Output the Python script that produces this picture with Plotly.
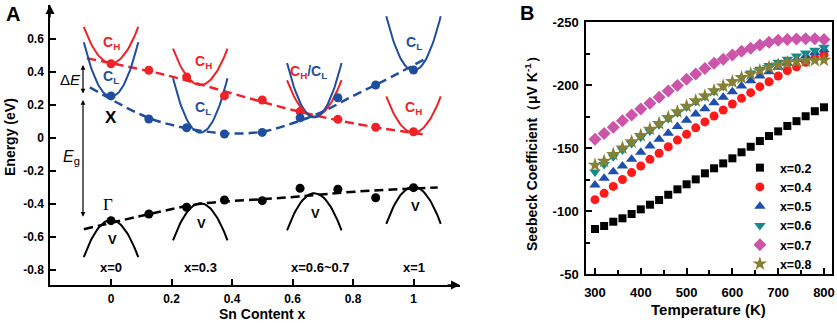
import numpy as np
import plotly.graph_objects as go

# ---------------- Panel A data ----------------
sn_x = [0, 0.125, 0.25, 0.375, 0.5, 0.625, 0.75, 0.875, 1.0]
E_CH = [0.45, 0.41, 0.37, 0.255, 0.23, 0.16, 0.113, 0.065, 0.038]
E_CL = [0.255, 0.115, 0.062, 0.024, 0.034, 0.122, 0.244, 0.321, 0.412]
E_V = [-0.501, -0.461, -0.420, -0.376, -0.380, -0.305, -0.311, -0.362, -0.301]

fit_CH_x = [-0.08, 0.18, 0.40, 0.60, 0.80, 1.03]
fit_CH_E = [0.483, 0.382, 0.27, 0.17, 0.089, 0.022]
fit_CL_x = [-0.07, 0.12, 0.25, 0.38, 0.50, 0.60, 0.70, 0.80, 0.90, 1.04]
fit_CL_E = [0.307, 0.125, 0.059, 0.028, 0.038, 0.089, 0.16, 0.255, 0.345, 0.48]
fit_V_x = [-0.09, 0.13, 0.29, 0.49, 0.62, 0.81, 1.08]
fit_V_E = [-0.553, -0.46, -0.40, -0.372, -0.355, -0.325, -0.30]

band_x = [0, 0.295, 0.672, 1.0]
band_CH = [0.453, 0.321, 0.13, 0.032]
band_CL = [0.25, 0.032, 0.125, 0.408]
band_V = [-0.497, -0.396, -0.335, -0.295]
band_labels = ["x=0", "x=0.3", "x=0.6~0.7", "x=1"]

a_xticks = [0, 0.2, 0.4, 0.6, 0.8, 1.0]
a_xticktext = ["0", "0.2", "0.4", "0.6", "0.8", "1"]
a_yticks = [0.6, 0.4, 0.2, 0, -0.2, -0.4, -0.6, -0.8]
a_yticktext = ["0.6", "0.4", "0.2", "0", "-0.2", "-0.4", "-0.6", "-0.8"]

# ---------------- Panel B data ----------------
T = [300, 320, 340, 360, 380, 400, 420, 440, 460, 480, 500, 520, 540,
     560, 580, 600, 620, 640, 660, 680, 700, 720, 740, 760, 780, 800]
S_02 = [-85.7, -88.1, -91.5, -94.2, -97.6, -101.3, -105, -108.7, -112.9, -117.2, -121.2, -125.1, -129.9,
        -133.9, -137.8, -141.8, -146.6, -151, -155.5, -159.5, -163.2, -167.5, -171.3, -175.2, -179.2, -182.3]
S_04 = [-109, -114, -119.5, -125, -130.5, -135.7, -141, -145.8, -151, -156.3, -160.9, -166, -170.7,
        -175.4, -180.2, -184.9, -189.4, -193.9, -198.7, -202.6, -207.1, -211.4, -214.5, -218, -221.4, -224]
S_05 = [-120.6, -125.9, -131.2, -135.7, -141, -146.6, -151.6, -156.9, -161.7, -167, -172, -177, -181.2,
        -186, -190.2, -194.7, -199.2, -203.4, -207.1, -210.6, -214, -217.2, -220.2, -223, -225.5, -228]
S_06 = [-131, -137, -143, -148.5, -153.5, -158.5, -163.5, -168.5, -173.5, -178, -182.5, -187, -191,
        -195, -199, -202.5, -206, -209.5, -212.5, -215.5, -218, -220.5, -223, -225.3, -227.5, -230]
S_07 = [-157, -161.6, -166.5, -171.7, -176.2, -181, -185.5, -190.2, -195.2, -199.7, -204.5, -208.7, -213,
        -217.2, -220.4, -223.8, -226.7, -229.1, -231.7, -233.9, -235.5, -236.2, -236.5, -236.8, -236.8, -236.2]
S_08 = [-136.5, -139.5, -145, -150, -155, -160, -165, -169.5, -174.3, -178.8, -183.3, -187.5, -191.3,
        -195.5, -199.2, -202.6, -205.8, -208.7, -211.4, -214, -215.9, -217.7, -218.5, -219.1, -219.6, -219.8]
b_names = ["x=0.2", "x=0.4", "x=0.5", "x=0.6", "x=0.7", "x=0.8"]
b_series = [S_02, S_04, S_05, S_06, S_07, S_08]
b_xticks = [300, 400, 500, 600, 700, 800]
b_yticks = [-250, -200, -150, -100, -50]
b_yticktext = ["-250", "-200", "-150", "-100", "-50"]

# ---------------- styles ----------------
RED = "#ee2227"
BLUE = "#1f4e9f"
FONT = "Arial, Liberation Sans, sans-serif"
b_styles = [
    dict(symbol="square", color="#000000", size=8),
    dict(symbol="circle", color="#ff1a1a", size=9),
    dict(symbol="triangle-up", color="#1f4fae", size=10),
    dict(symbol="triangle-down", color="#138a8c", size=10),
    dict(symbol="diamond", color="#cc55aa", size=10),
    dict(symbol="star", color="#858033", size=11),
]

fig = go.Figure()

# Panel A: fit lines (dashed)
for fx, fe, col in [(fit_CH_x, fit_CH_E, RED), (fit_CL_x, fit_CL_E, BLUE), (fit_V_x, fit_V_E, "black")]:
    fig.add_trace(go.Scatter(x=fx, y=fe, mode="lines", xaxis="x", yaxis="y",
                             line=dict(color=col, width=2.5, dash="9px,5px", shape="spline", smoothing=1.0),
                             showlegend=False, hoverinfo="skip"))

# Panel A: band parabolas
half_w = 0.09
dxs = np.linspace(-half_w, half_w, 41)
for c, ch, cl, v in zip(band_x, band_CH, band_CL, band_V):
    for vert, depth, col in [(ch, 0.22, RED), (cl, 0.33, BLUE), (v, -0.225, "black")]:
        fig.add_trace(go.Scatter(x=c + dxs, y=vert + depth * (dxs / half_w) ** 2, mode="lines",
                                 xaxis="x", yaxis="y", line=dict(color=col, width=2),
                                 showlegend=False, hoverinfo="skip"))

# Panel A: dots
for ee, col in [(E_CH, RED), (E_CL, BLUE), (E_V, "black")]:
    fig.add_trace(go.Scatter(x=sn_x, y=ee, mode="markers", xaxis="x", yaxis="y",
                             marker=dict(color=col, size=9), showlegend=False, hoverinfo="skip"))

# Panel B
for name, ser, st in zip(b_names, b_series, b_styles):
    fig.add_trace(go.Scatter(x=T, y=ser, mode="markers", name=name, xaxis="x2", yaxis="y2",
                             marker=dict(symbol=st["symbol"], color=st["color"], size=st["size"],
                                         line=dict(width=0))))

W, H = 837, 323
axA_x0, axA_x1 = 50, 460
axA_yb, axA_yt = 285, 5
xA_range = [-0.2017, 1.1537]
yA_range = [-0.891, 0.806]

axis_common = dict(showgrid=False, zeroline=False, showline=True, linecolor="black", linewidth=1.5,
                   ticks="inside", tickcolor="black", tickwidth=1.5, ticklen=6, automargin=False)

fig.update_layout(
    width=W, height=H, margin=dict(l=0, r=0, t=0, b=0, autoexpand=False),
    paper_bgcolor="white", plot_bgcolor="white",
    font=dict(family=FONT, color="black"),
    xaxis=dict(domain=[axA_x0 / W, axA_x1 / W], range=xA_range, anchor="y",
               tickvals=a_xticks, ticktext=a_xticktext,
               tickfont=dict(size=12, weight="bold"), ticklabelstandoff=2, **axis_common),
    yaxis=dict(domain=[(H - axA_yb) / H, (H - axA_yt) / H], range=yA_range, anchor="x",
               tickvals=a_yticks, ticktext=a_yticktext,
               tickfont=dict(size=12, weight="bold"), ticklabelstandoff=2, **axis_common),
    xaxis2=dict(domain=[586 / W, 832 / W], range=[280.4, 817.5], anchor="y2",
                tickvals=b_xticks, mirror=True,
                minor=dict(ticks="inside", ticklen=4, tickwidth=1.5, tickcolor="black", dtick=50, tick0=300),
                tickfont=dict(size=13, weight="bold"), ticklabelstandoff=6, **axis_common),
    yaxis2=dict(domain=[(H - 274) / H, (H - 22) / H], range=[-50, -250], anchor="x2",
                tickvals=b_yticks, ticktext=b_yticktext, mirror=True,
                minor=dict(ticks="inside", ticklen=4, tickwidth=1.5, tickcolor="black", dtick=25, tick0=-50),
                tickfont=dict(size=13, weight="bold"), ticklabelstandoff=3, **axis_common),
    legend=dict(x=0.884, y=(H - 153) / H, xanchor="left", yanchor="top", bgcolor="rgba(0,0,0,0)",
                font=dict(size=12.5, weight="bold", family=FONT), tracegroupgap=0, itemwidth=30),
)

ann = []
# axis arrowheads panel A
ann.append(dict(x=xA_range[0], y=yA_range[1], xref="x", yref="y", ax=0, ay=14, text="",
                showarrow=True, arrowhead=2, arrowsize=1.2, arrowwidth=1.5, arrowcolor="black"))
ann.append(dict(x=xA_range[1], y=yA_range[0], xref="x", yref="y", ax=-14, ay=0, text="",
                showarrow=True, arrowhead=2, arrowsize=1.2, arrowwidth=1.5, arrowcolor="black"))
# Delta E and Eg double arrows
arr_x = -0.0926
ann.append(dict(x=arr_x, y=band_CH[0] - 0.01, ax=arr_x, ay=band_CL[0] + 0.01, xref="x", yref="y",
                axref="x", ayref="y", text="", showarrow=True, arrowhead=2, arrowside="end+start",
                arrowsize=0.8, arrowwidth=1.2, arrowcolor="black"))
ann.append(dict(x=arr_x, y=band_CL[0] - 0.02, ax=arr_x, ay=band_V[0] + 0.01, xref="x", yref="y",
                axref="x", ayref="y", text="", showarrow=True, arrowhead=2, arrowside="end+start",
                arrowsize=0.8, arrowwidth=1.2, arrowcolor="black"))
ann.append(dict(x=-0.135, y=0.355, xref="x", yref="y", text="Δ<i>E</i>", showarrow=False,
                xanchor="center", yanchor="middle", font=dict(size=15, color="black")))
ann.append(dict(x=-0.13, y=-0.12, xref="x", yref="y", text="<i>E</i><sub>g</sub>", showarrow=False,
                xanchor="center", yanchor="middle", font=dict(size=16, color="black")))

# band labels
def lab(x, y, t, col, size=14, weight="bold", fam=FONT):
    ann.append(dict(x=x, y=y, xref="x", yref="y", text=t, showarrow=False,
                    xanchor="center", yanchor="middle",
                    font=dict(size=size, color=col, weight=weight, family=fam)))

lab(band_x[0], 0.575, "C<sub>H</sub>", RED)
lab(band_x[1] + 0.01, 0.46, "C<sub>H</sub>", RED)
lab(band_x[3], 0.18, "C<sub>H</sub>", RED)
lab(band_x[0], 0.37, "C<sub>L</sub>", BLUE)
lab(band_x[1] + 0.01, 0.18, "C<sub>L</sub>", BLUE)
lab(band_x[3], 0.575, "C<sub>L</sub>", BLUE)
ann.append(dict(x=band_x[2] - 0.02, y=0.40, xref="x", yref="y", showarrow=False,
                xanchor="center", yanchor="middle",
                text=f"<span style='color:{RED}'>C<sub>H</sub></span><span style='color:{BLUE}'>/C<sub>L</sub></span>",
                font=dict(size=14, weight="bold")))
lab(band_x[0], 0.125, "X", "black", size=17)
lab(band_x[0] - 0.01, -0.405, "Γ", "black", size=17, weight="normal", fam="Liberation Serif, serif")
for c, v in zip(band_x, band_V):
    lab(c + 0.005, v - 0.12, "V", "black", size=13)
for c, t in zip(band_x, band_labels):
    lab(c + (0.02 if "~" in t else 0), -0.785, t, "black", size=13)

# titles
def ptxt(x, y, t, size, angle=0):
    ann.append(dict(x=x / W, y=(H - y) / H, xref="paper", yref="paper", text=t, textangle=angle,
                    xanchor="center", yanchor="middle", showarrow=False,
                    font=dict(size=size, weight="bold")))

ptxt(262, 314, "Sn Content x", 14)
ptxt(10, 137, "Energy (eV)", 14, -90)
ptxt(708, 309, "Temperature (K)", 15)
ptxt(531, 150, "Seebeck Coefficient（μV K<sup>-1</sup>）", 14, -90)
ptxt(13, 14, "A", 20)
ptxt(527, 13, "B", 20)

fig.update_layout(annotations=ann)
fig.write_html("out.html", config={"displayModeBar": False},
               post_script="document.body.style.margin='0px';document.body.style.overflow='hidden';")
